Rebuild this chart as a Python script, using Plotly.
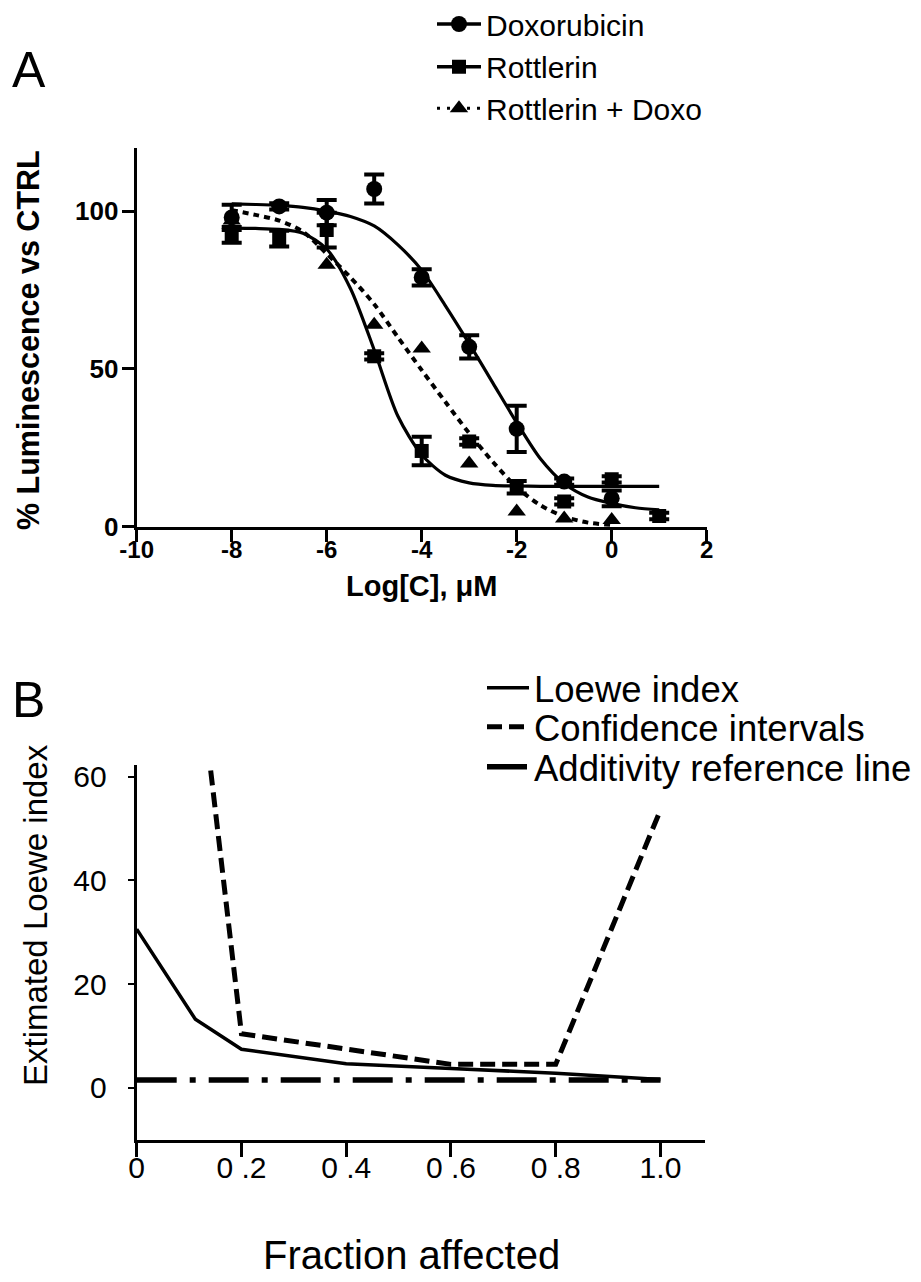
import plotly.graph_objects as go

W, H = 921, 1282
def px(x): return x / W
def py(y): return 1 - y / H

FONT = "Liberation Sans, Arial, Helvetica, sans-serif"

# ---------------- Panel A data ----------------
doxo_x = [-8, -7, -6, -5, -4, -3, -2, -1, 0]
doxo_y = [98, 101.5, 99.5, 107, 79, 57, 31, 14.3, 9]
doxo_err = [4, 1, 4, 4.6, 2.6, 3.7, 7.3, 1, 2.5]

rott_x = [-8, -7, -6, -5, -4, -3, -2, -1, 0, 1]
rott_y = [92.5, 91.3, 94, 54, 24, 27, 12.5, 8, 15, 3.4]
rott_err = [2.5, 2.5, 5.5, 1, 4.5, 1, 2, 1, 1, 1]

combo_x = [-8, -6, -5, -4, -3, -2, -1, 0]
combo_y = [97, 83, 64, 56.5, 20, 4.8, 2.6, 2.1]

fit_x = [-8, -7.5, -7, -6.5, -6, -5.5, -5, -4.5, -4, -3.5, -3, -2.5, -2, -1.5, -1, -0.5, 0, 0.5, 1]
doxo_fit_y = [102.3, 102.1, 101.8, 101.2, 100.0, 98.3, 95.3, 89.3, 81.3, 70.0, 58.0, 45.5, 33.0, 21.5, 13.7, 9.4, 7.4, 6.0, 5.3]
rott_fit_y = [94.6, 94.5, 94.2, 93.0, 88.0, 75.5, 56.0, 35.0, 22.8, 16.3, 13.9, 13.1, 12.9, 12.8, 12.8, 12.8, 12.8, 12.8, 12.8]
combo_fit_x = [-8, -7.5, -7, -6.5, -6, -5.5, -5, -4.5, -4, -3.5, -3, -2.5, -2, -1.5, -1, -0.5, 0]
combo_fit_y = [100.3, 98.8, 97.0, 93.5, 86.5, 79.0, 70.5, 60.0, 49.6, 39.5, 29.6, 20.5, 12.5, 6.8, 3.2, 1.3, 0.5]

a_xticks = [-10, -8, -6, -4, -2, 0, 2]
a_xticktext = ["-10", "-8", "-6", "-4", "-2", "0", "2"]
a_yticks = [0, 50, 100]

# ---------------- Panel B data ----------------
fa_x = [0, 0.112, 0.2, 0.4, 0.6, 0.8, 1.0]
loewe_y = [30.6, 13.2, 7.4, 4.6, 3.7, 2.8, 1.6]
ci_x = [0.112, 0.2, 0.6, 0.8, 1.0]
ci_y = [86.5, 10.4, 4.5, 4.5, 53.6]
add_x = [0, 1.0]
add_y = [1.5, 1.5]

b_xticks = [0, 0.2, 0.4, 0.6, 0.8, 1.0]
b_xticktext = ["0", "0 .2", "0 .4", "0 .6", "0 .8", "1.0"]
b_yticks = [0, 20, 40, 60]

fig = go.Figure()

# Panel A fitted curves
fig.add_trace(go.Scatter(x=fit_x, y=doxo_fit_y, mode="lines", line=dict(color="black", width=3.2, shape="spline", smoothing=0.8),
                         showlegend=False, xaxis="x", yaxis="y"))
fig.add_trace(go.Scatter(x=fit_x, y=rott_fit_y, mode="lines", line=dict(color="black", width=3.2, shape="spline", smoothing=0.8),
                         showlegend=False, xaxis="x", yaxis="y"))
fig.add_trace(go.Scatter(x=combo_fit_x, y=combo_fit_y, mode="lines",
                         line=dict(color="black", width=4, dash="6px,5px", shape="spline", smoothing=0.8),
                         showlegend=False, xaxis="x", yaxis="y"))
# Panel A data points
fig.add_trace(go.Scatter(x=combo_x, y=combo_y, mode="markers",
                         marker=dict(symbol="triangle-up", size=16, color="black"),
                         showlegend=False, xaxis="x", yaxis="y"))
fig.add_trace(go.Scatter(x=rott_x, y=rott_y, mode="markers",
                         marker=dict(symbol="square", size=14, color="black"),
                         error_y=dict(type="data", array=rott_err, color="black", thickness=4, width=10),
                         showlegend=False, xaxis="x", yaxis="y"))
fig.add_trace(go.Scatter(x=doxo_x, y=doxo_y, mode="markers",
                         marker=dict(symbol="circle", size=16, color="black"),
                         error_y=dict(type="data", array=doxo_err, color="black", thickness=4, width=10),
                         showlegend=False, xaxis="x", yaxis="y"))

# Panel A legend entries
fig.add_trace(go.Scatter(x=[None], y=[None], mode="lines+markers", name="Doxorubicin",
                         line=dict(color="black", width=3.5), marker=dict(symbol="circle", size=16, color="black"),
                         legend="legend", xaxis="x", yaxis="y"))
fig.add_trace(go.Scatter(x=[None], y=[None], mode="lines+markers", name="Rottlerin",
                         line=dict(color="black", width=3.5), marker=dict(symbol="square", size=14, color="black"),
                         legend="legend2", xaxis="x", yaxis="y"))
fig.add_trace(go.Scatter(x=[None], y=[None], mode="lines+markers", name="Rottlerin + Doxo",
                         line=dict(color="black", width=3, dash="3px,7px"), marker=dict(symbol="triangle-up", size=16, color="black"),
                         legend="legend3", xaxis="x", yaxis="y"))

# Panel B lines
fig.add_trace(go.Scatter(x=add_x, y=add_y, mode="lines", name="Additivity reference line",
                         line=dict(color="black", width=5.5, dash="40px,13px,6px,13px"),
                         legend="legend6", xaxis="x2", yaxis="y2"))
fig.add_trace(go.Scatter(x=ci_x, y=ci_y, mode="lines", name="Confidence intervals",
                         line=dict(color="black", width=5, dash="15px,7px"),
                         legend="legend5", xaxis="x2", yaxis="y2"))
fig.add_trace(go.Scatter(x=fa_x, y=loewe_y, mode="lines", name="Loewe index",
                         line=dict(color="black", width=3.5),
                         legend="legend4", xaxis="x2", yaxis="y2"))

def leg(xp, yp, size, iw):
    return dict(x=px(xp), y=py(yp), xanchor="left", yanchor="middle", bgcolor="rgba(0,0,0,0)",
                borderwidth=0, itemwidth=iw, font=dict(family=FONT, size=size, color="black"))

axis_common = dict(showgrid=False, zeroline=False, showline=True, linecolor="black", ticks="outside",
                   tickcolor="black", automargin=False)

fig.update_layout(
    width=W, height=H, autosize=False,
    margin=dict(l=0, r=0, t=0, b=0, pad=0, autoexpand=False),
    paper_bgcolor="white", plot_bgcolor="white",
    font=dict(family=FONT, color="black"),
    xaxis=dict(domain=[px(136.7), px(706.7)], range=[-10, 2], anchor="y",
               tickvals=a_xticks, ticktext=a_xticktext, linewidth=3, ticklen=12, tickwidth=3,
               ticklabelstandoff=-13,
               tickfont=dict(family=FONT, size=24, weight="bold"), **axis_common),
    yaxis=dict(domain=[py(526.7), py(148)], range=[0, 120], anchor="x",
               tickvals=a_yticks, linewidth=3, ticklen=12, tickwidth=3,
               ticklabelstandoff=-2,
               tickfont=dict(family=FONT, size=26, weight="bold"), **axis_common),
    xaxis2=dict(domain=[px(136.7), px(705)], range=[0, 1.085], anchor="y2",
                tickvals=b_xticks, ticktext=b_xticktext, linewidth=3, ticklen=14, tickwidth=3,
                ticklabelstandoff=-15,
                tickfont=dict(family=FONT, size=30), **axis_common),
    yaxis2=dict(domain=[py(1139.5), py(764.8)], range=[-10, 62.3], anchor="x2",
                tickvals=b_yticks, linewidth=3, ticklen=6, tickwidth=1.5,
                ticklabelstandoff=15,
                tickfont=dict(family=FONT, size=30), **axis_common),
    legend=leg(432, 24, 30, 44),
    legend2=leg(432, 66.7, 30, 44),
    legend3=leg(432, 108.3, 30, 44),
    legend4=leg(482, 688, 36.5, 42),
    legend5=leg(482, 727, 36.5, 42),
    legend6=leg(482, 767, 36.5, 42),
    annotations=[
        dict(text="A", x=px(10), y=py(70), xref="paper", yref="paper", xanchor="left", yanchor="middle",
             showarrow=False, font=dict(family=FONT, size=50)),
        dict(text="B", x=px(10), y=py(700), xref="paper", yref="paper", xanchor="left", yanchor="middle",
             showarrow=False, font=dict(family=FONT, size=50)),
        dict(text="% Luminescence vs CTRL", x=px(28), y=py(340), xref="paper", yref="paper",
             xanchor="center", yanchor="middle", textangle=-90, showarrow=False,
             font=dict(family=FONT, size=30.5, weight="bold")),
        dict(text="Log[C], μM", x=px(421.7), y=py(586), xref="paper", yref="paper",
             xanchor="center", yanchor="middle", showarrow=False,
             font=dict(family=FONT, size=29, weight="bold")),
        dict(text="Extimated Loewe index", x=px(35), y=py(915), xref="paper", yref="paper",
             xanchor="center", yanchor="middle", textangle=-90, showarrow=False,
             font=dict(family=FONT, size=33)),
        dict(text="Fraction affected", x=px(411), y=py(1255), xref="paper", yref="paper",
             xanchor="center", yanchor="middle", showarrow=False,
             font=dict(family=FONT, size=40)),
    ],
)

fig.write_html("out.html", config={"displayModeBar": False},
               post_script="document.body.style.margin='0px';")
